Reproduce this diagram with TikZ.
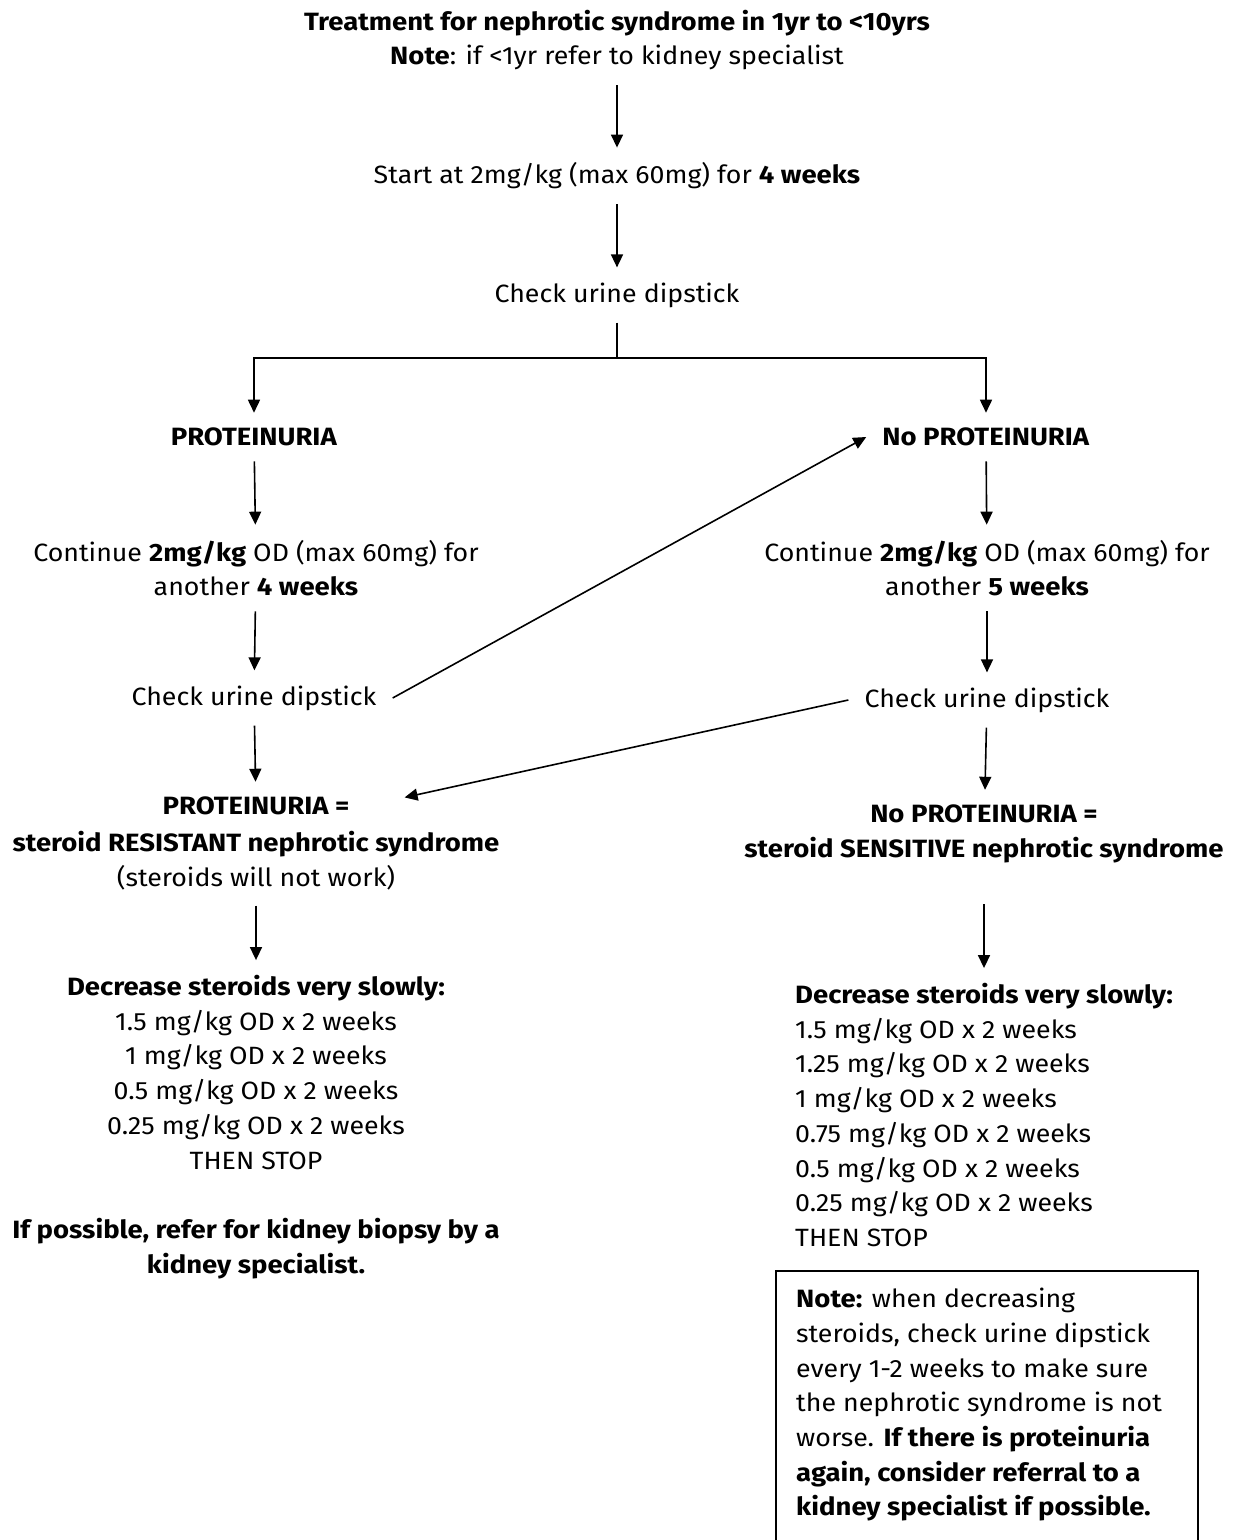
\documentclass[tikz,border=0pt]{standalone}
\usepackage{fontspec}
\setmainfont{Fira Sans}[FakeStretch=1.07, BoldFeatures={FakeStretch=1.1}]
\usetikzlibrary{arrows.meta}

\begin{document}
\begin{tikzpicture}[x=1pt,y=-1pt,
  txt/.style={font=\fontsize{25}{34.7}\selectfont, align=center, inner xsep=16pt, inner ysep=15pt},
  lefttxt/.style={txt, align=left},
  flow/.style={-{Triangle[width=12pt,length=13pt]}, line width=1.6pt},
  link/.style={line width=1.6pt},
]
\useasboundingbox (0,0) rectangle (1236,1540);

% top of the chart
\node[txt] (title) at (617,40) {\textbf{Treatment for nephrotic syndrome in 1yr to <10yrs}\\\textbf{Note}: if <1yr refer to kidney specialist};
\node[txt] (start) at (617,176) {Start at 2mg/kg (max 60mg) for \textbf{4 weeks}};
\node[txt] (check) at (617,295) {Check urine dipstick};
\coordinate (split) at (617,358);

% left branch
\node[txt] (lprot) at (254,437) {\textbf{PROTEINURIA}};
\node[txt] (lcont) at (256,568) {Continue \textbf{2mg/kg} OD (max 60mg) for\\another \textbf{4 weeks}};
\node[txt] (lcheck) at (254,698) {Check urine dipstick};
\node[txt] (lreshead) at (256,806) {\textbf{PROTEINURIA =}};
\node[txt] (lres) at (256,861) {\textbf{steroid RESISTANT nephrotic syndrome}\\(steroids will not work)};
\node[txt] (ldec) at (256,1127) {\textbf{Decrease steroids very slowly:}\\1.5 mg/kg OD x 2 weeks\\1 mg/kg OD x 2 weeks\\0.5 mg/kg OD x 2 weeks\\0.25 mg/kg OD x 2 weeks\\THEN STOP\\[34.7pt]\textbf{If possible, refer for kidney biopsy by a}\\\textbf{kidney specialist.}};

% right branch
\node[txt] (rprot) at (986,437) {\textbf{No PROTEINURIA}};
\node[txt] (rcont) at (987,568) {Continue \textbf{2mg/kg} OD (max 60mg) for\\another \textbf{5 weeks}};
\node[txt] (rcheck) at (987,700) {Check urine dipstick};
\node[txt] (rres) at (984,834) {\textbf{No PROTEINURIA =}\\\textbf{steroid SENSITIVE nephrotic syndrome}};
\node[lefttxt, anchor=west] (rdec) at (779,1115) {\textbf{Decrease steroids very slowly:}\\1.5 mg/kg OD x 2 weeks\\1.25 mg/kg OD x 2 weeks\\1 mg/kg OD x 2 weeks\\0.75 mg/kg OD x 2 weeks\\0.5 mg/kg OD x 2 weeks\\0.25 mg/kg OD x 2 weeks\\THEN STOP};
\node[lefttxt, anchor=north west, inner xsep=20pt, inner ysep=17pt] (note) at (776,1271) {\textbf{Note:} when decreasing\\steroids, check urine dipstick\\every 1-2 weeks to make sure\\the nephrotic syndrome is not\\worse. \textbf{If there is proteinuria}\\\textbf{again, consider referral to a}\\\textbf{kidney specialist if possible.}};
\draw[line width=1.3pt] (note.north west) rectangle ([yshift=-40pt]note.south west -| 1198,0);

% connectors
\draw[flow] (title) -- (start);
\draw[flow] (start) -- (check);
\draw[link] (check) -- (split);
\draw[flow] (split) -| (lprot);
\draw[flow] (split) -| (rprot);
\draw[flow] (lprot) -- (lcont);
\draw[flow] (lcont) -- (lcheck);
\draw[flow] (lcheck) -- (lreshead);
\draw[flow] (lres) -- (ldec);
\draw[flow] (rprot) -- (rcont);
\draw[flow] (rcont) -- (rcheck);
\draw[flow] (rcheck) -- (rres);
\draw[flow, shorten <=26pt] (rres.south) -- (rres.south |- rdec.north);
\draw[flow] (lcheck.east) -- (rprot.west);
\draw[flow, shorten >=40pt] (rcheck.west) -- (lreshead.east);
\end{tikzpicture}
\end{document}
